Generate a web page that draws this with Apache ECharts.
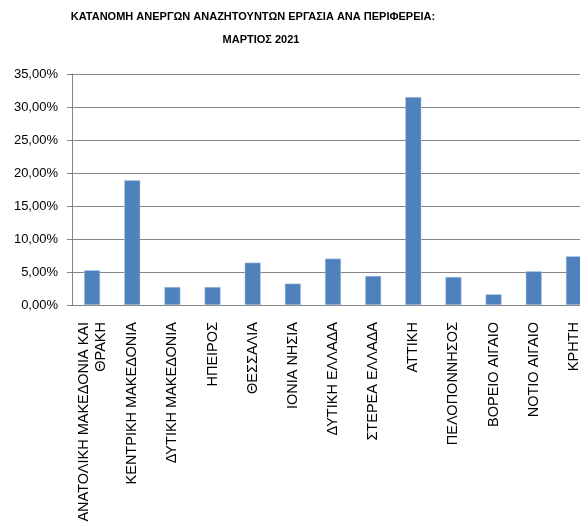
<!DOCTYPE html>
<html>
<head>
<meta charset="utf-8">
<script src="https://cdn.jsdelivr.net/npm/echarts@6/dist/echarts.min.js"></script>
<style>
	html, body { margin: 0; padding: 0; background: #fff; }
	#chart { width: 580px; height: 522px; }
</style>
</head>
<body>
<div id="chart"></div>
<script>
// περιφέρειες
var regions = [
	'ΑΝΑΤΟΛΙΚΗ ΜΑΚΕΔΟΝΙΑ ΚΑΙ\nΘΡΑΚΗ', 'ΚΕΝΤΡΙΚΗ ΜΑΚΕΔΟΝΙΑ', 'ΔΥΤΙΚΗ ΜΑΚΕΔΟΝΙΑ', 'ΗΠΕΙΡΟΣ',
	'ΘΕΣΣΑΛΙΑ', 'ΙΟΝΙΑ ΝΗΣΙΑ', 'ΔΥΤΙΚΗ ΕΛΛΑΔΑ', 'ΣΤΕΡΕΑ ΕΛΛΑΔΑ', 'ΑΤΤΙΚΗ',
	'ΠΕΛΟΠΟΝΝΗΣΟΣ', 'ΒΟΡΕΙΟ ΑΙΓΑΙΟ', 'ΝΟΤΙΟ ΑΙΓΑΙΟ', 'ΚΡΗΤΗ'
]
// ποσοστά (%)
var shares = [5.26, 18.92, 2.73, 2.73, 6.42, 3.24, 7.03, 4.40, 31.51, 4.25, 1.62, 5.11, 7.38]
var yTicks = [0, 5, 10, 15, 20, 25, 30, 35]
var titleLines = ['ΚΑΤΑΝΟΜΗ ΑΝΕΡΓΩΝ ΑΝΑΖΗΤΟΥΝΤΩΝ ΕΡΓΑΣΙΑ ΑΝΑ ΠΕΡΙΦΕΡΕΙΑ:', 'ΜΑΡΤΙΟΣ 2021']

var font = 'Liberation Sans'

var chart = echarts.init(document.getElementById('chart'))
chart.setOption({
	animation: false,
	graphic: [{
		type: 'text',
		x: 253,
		y: 17,
		style: {
			text: titleLines[0],
			textAlign: 'center',
			textVerticalAlign: 'middle',
			font: 'bold 11px ' + font,
			fill: '#000'
		}
	}, {
		type: 'text',
		x: 261,
		y: 40,
		style: {
			text: titleLines[1],
			textAlign: 'center',
			textVerticalAlign: 'middle',
			font: 'bold 11px ' + font,
			fill: '#000'
		}
	}],
	grid: {
		left: 72,
		top: 74,
		right: -14, // η τελευταία στήλη κόβεται στην άκρη
		bottom: 217,
		outerBoundsMode: 'none'
	},
	xAxis: {
		type: 'category',
		data: regions,
		axisLine: { lineStyle: { color: '#868686' } },
		axisTick: { length: 5, lineStyle: { color: '#868686' } },
		axisLabel: {
			interval: 0,
			rotate: 90,
			margin: 17,
			fontFamily: font,
			fontSize: 14.5,
			color: '#000',
			lineHeight: 17,
			align: 'right'
		}
	},
	yAxis: {
		type: 'value',
		min: yTicks[0],
		max: yTicks[yTicks.length - 1],
		interval: 5,
		axisLine: { show: true, lineStyle: { color: '#868686' } },
		axisTick: { show: true, length: 5, lineStyle: { color: '#868686' } },
		splitLine: { lineStyle: { color: '#868686' } },
		axisLabel: {
			margin: 14,
			fontFamily: font,
			fontSize: 13,
			color: '#000',
			formatter: function(v) {
				return v.toFixed(2).replace('.', ',') + '%'
			}
		}
	},
	series: [{
		type: 'bar',
		data: shares,
		barWidth: 16,
		itemStyle: {
			color: '#4F81BD',
			borderColor: '#B9CDE5',
			borderWidth: 0.5
		}
	}]
})
</script>
</body>
</html>
